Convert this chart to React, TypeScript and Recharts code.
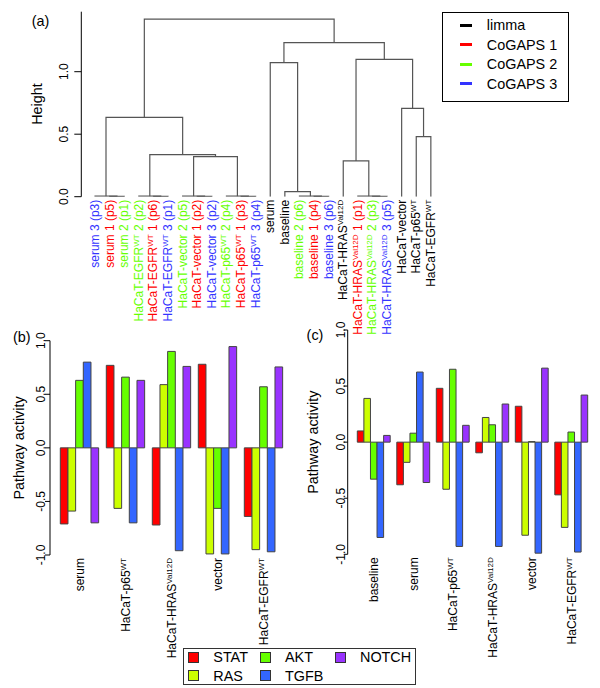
import React from 'react'
import { ComposedChart, Line, BarChart, Bar, XAxis, YAxis, Legend } from 'recharts'

const FONT = '"Liberation Sans", Arial, Helvetica, sans-serif'

// ---- (a) clustering ----
const methods = ['limma', 'CoGAPS 1', 'CoGAPS 2', 'CoGAPS 3']
const methodColors = ['#000000', '#FF0000', '#66FF00', '#3333FF']

// leaves in plotting order
const leafBase = [
  'serum 3', 'serum 1', 'serum 2',
  'HaCaT-EGFR', 'HaCaT-EGFR', 'HaCaT-EGFR',
  'HaCaT-vector 2', 'HaCaT-vector 1', 'HaCaT-vector 3',
  'HaCaT-p65', 'HaCaT-p65', 'HaCaT-p65',
  'serum', 'baseline', 'baseline 2', 'baseline 1', 'baseline 3',
  'HaCaT-HRAS', 'HaCaT-HRAS', 'HaCaT-HRAS', 'HaCaT-HRAS',
  'HaCaT-vector', 'HaCaT-p65', 'HaCaT-EGFR',
]
const leafSup = [
  '', '', '',
  'WT', 'WT', 'WT',
  '', '', '',
  'WT', 'WT', 'WT',
  '', '', '', '', '',
  'Val12D', 'Val12D', 'Val12D', 'Val12D',
  '', 'WT', 'WT',
]
const leafRest = [
  ' (p3)', ' (p5)', ' (p1)',
  ' 2 (p2)', ' 1 (p6)', ' 3 (p1)',
  ' (p5)', ' (p2)', ' (p2)',
  ' 2 (p4)', ' 1 (p3)', ' 3 (p4)',
  '', '', ' (p6)', ' (p4)', ' (p6)',
  '', ' 1 (p1)', ' 2 (p3)', ' 3 (p5)',
  '', '', '',
]
const leafMethod = [3, 1, 2, 2, 1, 3, 2, 1, 3, 2, 1, 3, 0, 0, 2, 1, 3, 0, 1, 2, 3, 0, 0, 0]

// hclust style merges: negative = leaf (1-based), positive = earlier merge
const mergeLeft = [-2, -1, -5, -4, -8, -7, -11, -10, -16, -15, -20, -19, -14, -18, -23, -22, 6, 4, 2, -13, 14, 20, 19]
const mergeRight = [-3, 1, -6, 3, -9, 5, -12, 7, -17, 9, -21, 11, 10, 12, -24, 15, 8, 17, 18, 13, 16, 21, 22]
const mergeHeight = [
  0.002, 0.004, 0.002, 0.004, 0.002, 0.004, 0.002, 0.004, 0.002, 0.004, 0.002, 0.004,
  0.04, 0.286, 0.48, 0.707, 0.32, 0.336, 0.635, 1.072, 1.099, 1.232, 1.42,
]
const heightTicks = [0, 0.5, 1.0]

// ---- (b) / (c) pathway activity ----
const pathways = ['STAT', 'RAS', 'AKT', 'TGFB', 'NOTCH']
const pathwayColors = ['#FF0000', '#CCFF00', '#66FF00', '#3366FF', '#9933FF']
const activityTicks = [-1, -0.5, 0, 0.5, 1]

const groupsB = ['serum', 'HaCaT-p65', 'HaCaT-HRAS', 'vector', 'HaCaT-EGFR']
const supB = ['', 'WT', 'Val12D', '', 'WT']
const statB = [-0.71, 0.77, -0.72, 0.78, -0.64]
const rasB = [-0.59, -0.565, 0.59, -0.99, -0.95]
const aktB = [0.63, 0.66, 0.9, -0.565, 0.57]
const tgfbB = [0.8, -0.7, -0.96, -0.99, -0.97]
const notchB = [-0.7, 0.63, 0.76, 0.945, 0.755]

const groupsC = ['baseline', 'serum', 'HaCaT-p65', 'HaCaT-HRAS', 'vector', 'HaCaT-EGFR']
const supC = ['', '', 'WT', 'Val12D', '', 'WT']
const statC = [0.1, -0.38, 0.48, -0.095, 0.32, -0.47]
const rasC = [0.39, -0.18, -0.42, 0.22, -0.83, -0.76]
const aktC = [-0.33, 0.08, 0.65, 0.155, 0.005, 0.09]
const tgfbC = [-0.85, 0.625, -0.93, -0.93, -0.99, -0.98]
const notchC = [0.06, -0.36, 0.15, 0.34, 0.66, 0.42]

function nodeX(ref: number): number {
  if (ref < 0) return -ref - 1
  return (nodeX(mergeLeft[ref - 1]) + nodeX(mergeRight[ref - 1])) / 2
}
function nodeH(ref: number): number {
  return ref < 0 ? 0 : mergeHeight[ref - 1]
}

const branches = mergeHeight.map((h, i) => {
  const l = mergeLeft[i]
  const r = mergeRight[i]
  return [
    { x: nodeX(l), y: nodeH(l) },
    { x: nodeX(l), y: h },
    { x: nodeX(r), y: h },
    { x: nodeX(r), y: nodeH(r) },
  ]
})

const leafTicks = leafBase.map((_, i) => i)

function buildRows(groups: string[], series: number[][]) {
  return groups.map((g, i) => {
    const row: Record<string, any> = { name: g }
    pathways.forEach((p, k) => { row[p] = series[k][i] })
    return row
  })
}
const dataB = buildRows(groupsB, [statB, rasB, aktB, tgfbB, notchB])
const dataC = buildRows(groupsC, [statC, rasC, aktC, tgfbC, notchC])

function LeafTick({ x, y, payload }: any) {
  const i = payload.value
  const sup = leafSup[i]
  return (
    <text
      transform={`translate(${x + 4},${y + 3}) rotate(-90)`}
      textAnchor="end"
      fontSize={12}
      fontFamily={FONT}
      fill={methodColors[leafMethod[i]]}
      style={{ whiteSpace: 'pre' }}
    >
      <tspan>{leafBase[i]}</tspan>
      {sup && <tspan fontSize={8} dy={-4}>{sup}</tspan>}
      {leafRest[i] && <tspan fontSize={12} dy={sup ? 4 : 0}>{leafRest[i]}</tspan>}
    </text>
  )
}

const valueTick = (dx: number) => ({ x, y, payload }: any) => (
  <text
    transform={`translate(${x + dx},${y}) rotate(-90)`}
    textAnchor="middle"
    fontSize={12}
    fontFamily={FONT}
    fill="#000"
  >
    {Number(payload.value).toFixed(1)}
  </text>
)

const groupTick = (sups: string[], dx: number) => ({ x, y, payload }: any) => {
  const sup = sups[payload.index]
  return (
    <text
      transform={`translate(${x + dx},${y + 3}) rotate(-90)`}
      textAnchor="end"
      fontSize={12}
      fontFamily={FONT}
      fill="#000"
    >
      <tspan>{payload.value}</tspan>
      {sup && <tspan fontSize={8} dy={-4}>{sup}</tspan>}
    </text>
  )
}

const axisTitle = (text: string, dxFromAxis: number, cy: number) => ({ viewBox }: any) => {
  const vb = viewBox || {}
  const x = (vb.x ?? 0) + (vb.width ?? 0) - dxFromAxis
  return (
    <text
      transform={`translate(${x},${cy}) rotate(-90)`}
      textAnchor="middle"
      fontSize={14.4}
      fontFamily={FONT}
      fill="#000"
    >
      {text}
    </text>
  )
}

function MethodLegend() {
  return (
    <div style={{ width: 127, height: 90, border: '1px solid #000', boxSizing: 'border-box', background: '#fff', position: 'relative', fontFamily: FONT, fontSize: 14.4 }}>
      {methods.map((m, i) => (
        <div key={m} style={{ position: 'absolute', left: 0, top: 3 + i * 19.4, height: 19.4, width: '100%', display: 'flex', alignItems: 'center' }}>
          <span style={{ position: 'absolute', left: 17, width: 11.5, height: 3, background: methodColors[i] }} />
          <span style={{ position: 'absolute', left: 43.5, color: '#000', whiteSpace: 'nowrap' }}>{m}</span>
        </div>
      ))}
    </div>
  )
}

const legendColX = [4, 75.7, 150.7]

function PathwayLegend() {
  return (
    <div style={{ width: 232.7, height: 36.7, border: '1px solid #333', boxSizing: 'border-box', background: '#fff', position: 'relative', fontFamily: FONT, fontSize: 14.4 }}>
      {pathways.map((p, i) => {
        const col = Math.floor(i / 2)
        const row = i % 2
        return (
          <div key={p} style={{ position: 'absolute', left: legendColX[col], top: row * 18.3 - 0.5, height: 17.4, display: 'flex', alignItems: 'center' }}>
            <span style={{ width: 11, height: 11, boxSizing: 'border-box', border: '1px solid #333', background: pathwayColors[i], display: 'inline-block' }} />
            <span style={{ marginLeft: 14, color: '#000', whiteSpace: 'nowrap' }}>{p}</span>
          </div>
        )
      })}
    </div>
  )
}

function Dendrogram() {
  return (
    <ComposedChart width={600} height={345} margin={{ top: 11.7, right: 66.95, bottom: 0, left: 41.3 }}>
      <XAxis
        type="number"
        dataKey="x"
        domain={[-0.942, 30]}
        allowDataOverflow
        ticks={leafTicks}
        interval={0}
        tick={LeafTick}
        axisLine={false}
        tickLine={false}
        tickSize={0}
        tickMargin={0}
        height={148.3}
      />
      <YAxis
        type="number"
        domain={[0, 1.48]}
        allowDataOverflow
        ticks={heightTicks}
        interval={0}
        width={40}
        stroke="#000"
        tickSize={7}
        tickMargin={0}
        tick={valueTick(-6.3)}
        label={{ content: axisTitle('Height', 39.5, 104) } as any}
      />
      {branches.map((pts, i) => (
        <Line
          key={i}
          data={pts}
          dataKey="y"
          type="linear"
          stroke="#555555"
          strokeWidth={1.2}
          dot={false}
          activeDot={false}
          legendType="none"
          isAnimationActive={false}
        />
      ))}
      <Legend
        layout="horizontal"
        verticalAlign="middle"
        align="center"
        content={() => <MethodLegend />}
        wrapperStyle={{ left: 442.3, top: 11.7, width: 127, height: 90 }}
      />
    </ComposedChart>
  )
}

function PanelB() {
  return (
    <BarChart width={300} height={368} data={dataB} barGap={0} margin={{ top: 20.7, right: 13.7, bottom: 33, left: 10 }}>
      <XAxis
        dataKey="name"
        interval={0}
        padding={{ left: 6.3, right: 0 }}
        axisLine={false}
        tickLine={false}
        tickSize={0}
        tickMargin={0}
        height={100}
        tick={groupTick(supB, 5)}
      />
      <YAxis
        domain={[-1, 1]}
        ticks={activityTicks}
        interval={0}
        width={40}
        stroke="#000"
        tickSize={5}
        tickMargin={0}
        tick={valueTick(0)}
        label={{ content: axisTitle('Pathway activity', 25.8, 127.9) } as any}
      />
      {pathways.map((p, k) => (
        <Bar key={p} dataKey={p} fill={pathwayColors[k]} stroke="#444" strokeWidth={1} barSize={7.67} isAnimationActive={false} />
      ))}
      <Legend
        layout="horizontal"
        verticalAlign="middle"
        align="center"
        content={() => <PathwayLegend />}
        wrapperStyle={{ left: 183.3, top: 328.3, width: 232.7, height: 36.7 }}
      />
    </BarChart>
  )
}

function PanelC() {
  return (
    <BarChart width={300} height={368} data={dataC} barGap={0} margin={{ top: 10, right: 8.7, bottom: 33.7, left: 7.7 }}>
      <XAxis
        dataKey="name"
        interval={0}
        padding={{ left: 6.6, right: 0 }}
        axisLine={false}
        tickLine={false}
        tickSize={0}
        tickMargin={0}
        height={100}
        tick={groupTick(supC, 4)}
      />
      <YAxis
        domain={[-1, 1]}
        ticks={activityTicks}
        interval={0}
        width={40}
        stroke="#000"
        tickSize={4}
        tickMargin={0}
        tick={valueTick(1.3)}
        label={{ content: axisTitle('Pathway activity', 30.2, 122.2) } as any}
      />
      {pathways.map((p, k) => (
        <Bar key={p} dataKey={p} fill={pathwayColors[k]} stroke="#444" strokeWidth={1} barSize={6.58} isAnimationActive={false} />
      ))}
    </BarChart>
  )
}

const panelLetter = (text: string, cx: number, cy: number) => (
  <div style={{ position: 'absolute', left: cx - 15, top: cy - 9, width: 30, height: 18, lineHeight: '18px', textAlign: 'center', fontSize: 14.4, fontFamily: FONT, color: '#000' }}>
    {text}
  </div>
)

export default function App() {
  return (
    <div style={{ position: 'absolute', left: 0, top: 0, width: 600, height: 688, background: '#fff', overflow: 'hidden', fontFamily: FONT }}>
      <div style={{ position: 'absolute', left: 0, top: 0 }}>
        <Dendrogram />
      </div>
      <div style={{ position: 'absolute', left: 0, top: 320 }}>
        <PanelB />
      </div>
      <div style={{ position: 'absolute', left: 300, top: 320 }}>
        <PanelC />
      </div>
      {panelLetter('(a)', 40.5, 21)}
      {panelLetter('(b)', 21.7, 336.7)}
      {panelLetter('(c)', 315, 335.3)}
    </div>
  )
}
